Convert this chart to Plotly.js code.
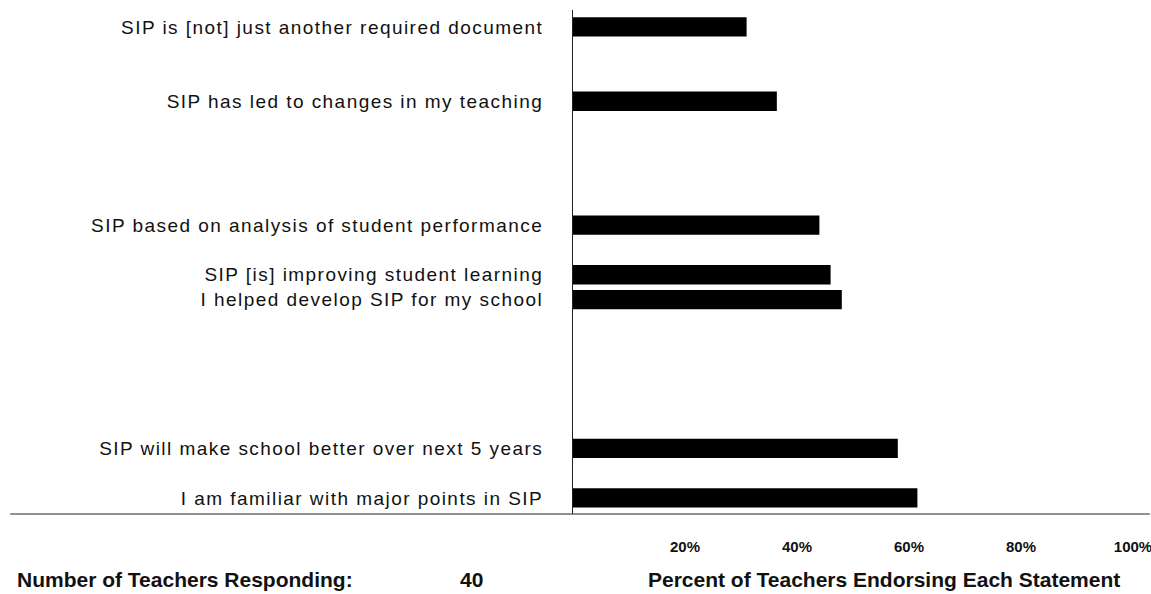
<!DOCTYPE html>
<html>
<head>
<meta charset="utf-8">
<script src="https://cdn.plot.ly/plotly-3.0.1.min.js"></script>
<style>
html,body{margin:0;padding:0;background:#fff;}
#chart{width:1151px;height:594px;}
#chart .ytick text{letter-spacing:1.45px;}
</style>
</head>
<body>
<div id="chart"></div>
<script>
const statements = [
  "SIP is [not] just another required document",
  "SIP has led to changes in my teaching",
  "SIP based on analysis of student performance",
  "SIP [is] improving student learning",
  "I helped develop SIP for my school",
  "SIP will make school better over next 5 years",
  "I am familiar with major points in SIP"
];
const percents = [31, 36.4, 44, 46, 48, 58, 61.5];
const rowPositions = [0, 3, 8, 10, 11, 17, 19];
const tickValues = [20, 40, 60, 80, 100];
const tickLabels = ["20%", "40%", "60%", "80%", "100%"];
const teachersResponding = 40;

const font = "Liberation Sans, Arial, Helvetica, sans-serif";

const trace = {
  type: "bar",
  orientation: "h",
  x: percents,
  y: rowPositions,
  width: 0.78,
  marker: {color: "#000000", line: {width: 0}},
  hoverinfo: "x+y"
};

const layout = {
  width: 1151, height: 594,
  margin: {l: 573, r: 18, t: 10, b: 80},
  paper_bgcolor: "#ffffff", plot_bgcolor: "#ffffff",
  showlegend: false,
  font: {family: font, color: "#111111"},
  xaxis: {
    range: [0, 100],
    tickvals: tickValues, ticktext: tickLabels,
    showgrid: false, zeroline: false, showline: false,
    ticks: "",
    ticklabelstandoff: 22,
    ticklabeloverflow: "allow",
    tickfont: {family: font, size: 15, color: "#111111", weight: "bold"},
    fixedrange: true
  },
  yaxis: {
    range: [19.65, -0.68],
    tickvals: rowPositions, ticktext: statements,
    showgrid: false, zeroline: false,
    showline: true, linecolor: "#222222", linewidth: 1,
    ticks: "",
    ticklabelstandoff: 25,
    tickfont: {family: font, size: 19, color: "#111111"},
    fixedrange: true
  },
  shapes: [
    {type: "line", xref: "paper", yref: "paper", x0: -1.005, x1: 1.03, y0: 0, y1: 0,
     line: {color: "#222222", width: 1}}
  ],
  annotations: [
    {xref: "paper", yref: "paper", x: -0.996, y: -0.13, xanchor: "left", yanchor: "middle",
     text: "Number of Teachers Responding:", showarrow: false,
     font: {family: font, size: 21, color: "#111111", weight: "bold"}},
    {xref: "paper", yref: "paper", x: -0.182, y: -0.13, xanchor: "center", yanchor: "middle",
     text: String(teachersResponding), showarrow: false,
     font: {family: font, size: 21, color: "#111111", weight: "bold"}},
    {xref: "paper", yref: "paper", x: 0.556, y: -0.13, xanchor: "center", yanchor: "middle",
     text: "Percent of Teachers Endorsing Each Statement", showarrow: false,
     font: {family: font, size: 21, color: "#111111", weight: "bold"}}
  ]
};

Plotly.newPlot("chart", [trace], layout, {displayModeBar: false, staticPlot: true});
</script>
</body>
</html>
